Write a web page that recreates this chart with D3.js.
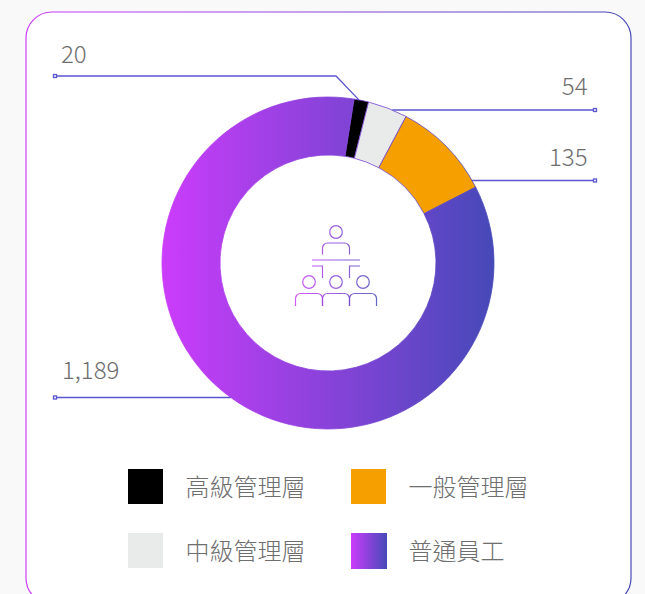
<!DOCTYPE html>
<meta charset="utf-8">
<style>
html, body { margin: 0; padding: 0; background: #f9f9f9; overflow: hidden; }
text { font-family: "Noto Sans CJK TC", "Noto Sans", sans-serif; font-weight: 300; font-size: 24px; fill: #6e6e6e; }
.leader { fill: none; stroke: #5b55cf; stroke-width: 1.3px; }
.end { fill: #fff; stroke: #5b55cf; stroke-width: 1.3px; }
.icon { fill: none; stroke: url(#iconGrad); stroke-width: 1.2px; stroke-opacity: .85; }
</style>
<body>
<script src="https://d3js.org/d3.v7.min.js"></script>
<script>
var categories = ["高級管理層", "中級管理層", "一般管理層", "普通員工"];
var values = [20, 54, 135, 1189];
var valueLabels = ["20", "54", "135", "1,189"];
var colors = ["#000000", "#e9ebea", "#f5a000", "url(#ringGrad)"];
var legendOrder = [0, 2, 1, 3];

var width = 645, height = 594;
var cx = 328, cy = 263, outer = 166, inner = 108;
var startDeg = 9;

var svg = d3.select("body").append("svg")
    .attr("width", width)
    .attr("height", height)
    .style("display", "block");

var defs = svg.append("defs");

function addGrad(id, x1, x2) {
  var g = defs.append("linearGradient")
      .attr("id", id)
      .attr("gradientUnits", "userSpaceOnUse")
      .attr("x1", x1).attr("x2", x2)
      .attr("y1", 0).attr("y2", 0);
  g.append("stop").attr("offset", "0%").attr("stop-color", "#cb3cfb");
  g.append("stop").attr("offset", "100%").attr("stop-color", "#4649b8");
}
// ring paths are drawn around the origin, so its gradient is too
addGrad("ringGrad", -outer, outer);
addGrad("iconGrad", 295, 377);
addGrad("panelGrad", 26, 631);
addGrad("swatchGrad", 351, 387);

// panel, runs off the bottom of the page
svg.append("rect")
    .attr("x", 26).attr("y", 12)
    .attr("width", 605).attr("height", 592)
    .attr("rx", 26)
    .attr("fill", "#fff")
    .attr("stroke", "url(#panelGrad)")
    .attr("stroke-width", 1.2);

var pie = d3.pie().sort(null)
    .startAngle(startDeg * Math.PI / 180)
    .endAngle((startDeg + 360) * Math.PI / 180);
var arc = d3.arc().innerRadius(inner).outerRadius(outer);

var ring = svg.append("g").attr("transform", "translate(" + cx + "," + cy + ")");

// leaders sit under the ring
var leaderY = [76, 110, 180.5, 397.5];
var labelX = [61, 587.5, 587.5, 62];
var labelY = [63, 95, 166, 379];
var endX = [55, 595, 595, 55];

function edgeX(i, y) {
  var dy = y - cy;
  var side = i == 3 ? -1 : 1;
  return cx + side * Math.sqrt(outer * outer - dy * dy);
}

var arcs = pie(values);

var leaders = svg.append("g");
values.forEach(function(v, i) {
  var pts;
  if (i == 0) {
    // first label has an elbow down to its slice
    var a = arcs[0].startAngle + 0.03;
    pts = [[endX[0], leaderY[0]], [336, leaderY[0]],
           [cx + outer * Math.sin(a), cy - outer * Math.cos(a)]];
  } else {
    pts = [[endX[i], leaderY[i]], [edgeX(i, leaderY[i]), leaderY[i]]];
  }
  leaders.append("path").attr("class", "leader").attr("d", d3.line()(pts));
  leaders.append("rect").attr("class", "end")
      .attr("x", endX[i] - 1.5).attr("y", leaderY[i] - 1.5)
      .attr("width", 3).attr("height", 3);
  svg.append("text")
      .attr("x", labelX[i]).attr("y", labelY[i])
      .attr("text-anchor", (i == 1 || i == 2) ? "end" : "start")
      .text(valueLabels[i]);
});

ring.selectAll("path")
    .data(arcs)
    .enter().append("path")
    .attr("d", arc)
    .attr("fill", function(d, i) { return colors[i]; })
    .attr("stroke", "url(#ringGrad)")
    .attr("stroke-width", 0.8);

// icon in the middle
var icon = svg.append("g").attr("class", "icon");
function person(x, y, top, h) {
  icon.append("circle").attr("cx", x).attr("cy", y).attr("r", 6.3);
  icon.append("path").attr("d",
    "M" + (x - 13.5) + "," + (y + top + h) + "v-" + (h - 5) + "a5,5 0 0 1 5,-5h17a5,5 0 0 1 5,5v" + (h - 5));
}
person(336, 232, 11, 11.5);
person(309, 282, 11.5, 12.5);
person(336, 282, 11.5, 12.5);
person(363, 282, 11.5, 12.5);
icon.append("path").attr("d", "M312,260H360M312,266H322.5V278M360,266H349.5V278");

// legend
var legendX = [128, 351];
var legendY = [469, 533];
legendOrder.forEach(function(c, i) {
  var col = i % 2, row = Math.floor(i / 2);
  svg.append("rect")
      .attr("x", legendX[col]).attr("y", legendY[row])
      .attr("width", c == 3 ? 36 : 35).attr("height", c == 3 ? 36 : 35)
      .attr("fill", c == 3 ? "url(#swatchGrad)" : colors[c]);
  svg.append("text")
      .attr("x", legendX[col] + 57.5).attr("y", legendY[row] + 27)
      .text(categories[c]);
});
</script>
</body>
